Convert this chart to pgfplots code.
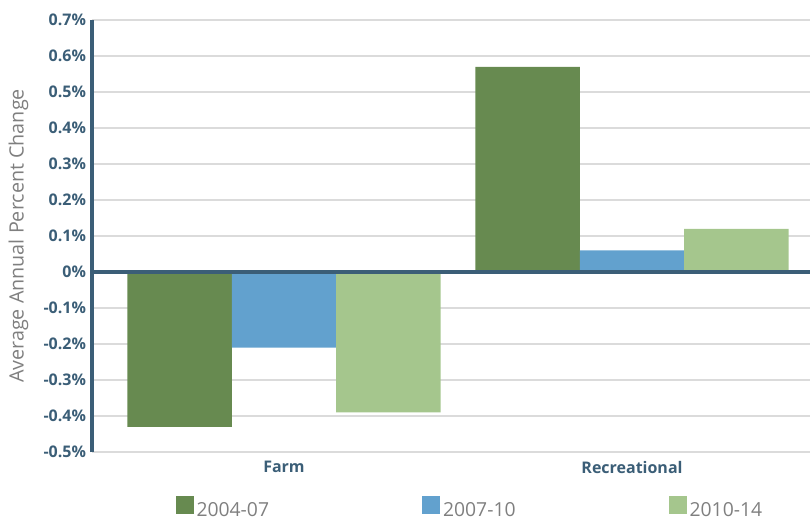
\documentclass[border=0pt]{standalone}
\usepackage{pgfplots}
\pgfplotsset{compat=1.18}
\usepackage{fontspec}
\setmainfont{Open Sans}

\definecolor{darkgreen}{HTML}{678A50}
\definecolor{midblue}{HTML}{62A1CE}
\definecolor{lightgreen}{HTML}{A5C68D}
\definecolor{axiscolor}{HTML}{3B5E77}
\definecolor{labelgray}{HTML}{7F7F7F}

\begin{document}
\begin{tikzpicture}
\begin{axis}[
    scale only axis,
    width=538.5pt, height=324pt,
    clip=false,
    ybar=0pt,
    bar width=0.3,
    xmin=-0.5517, xmax=1.5115,
    ymin=-0.5, ymax=0.7,
    xtick={0,1},
    xticklabels={Farm, Recreational},
    ytick={-0.5,-0.4,-0.3,-0.2,-0.1,0,0.1,0.2,0.3,0.4,0.5,0.6,0.7},
    yticklabels={-0.5\%,-0.4\%,-0.3\%,-0.2\%,-0.1\%,0\%,0.1\%,0.2\%,0.3\%,0.4\%,0.5\%,0.6\%,0.7\%},
    major tick length=0pt,
    axis line style={draw=none},
    ymajorgrids,
    grid style={color=black!14, line width=1.1pt},
    tick label style={font=\fontsize{12}{14}\selectfont\bfseries, text=axiscolor},
    yticklabel style={xshift=-1pt},
    xticklabel style={yshift=-3.5pt},
    ylabel={Average Annual Percent Change},
    ylabel style={at={(axis description cs:-0.1025,0.5)}, anchor=center, rotate=0,
        font=\fontsize{14.8}{16}\selectfont, text=labelgray},
    legend columns=3,
    legend style={at={(axis description cs:0.5,0)}, anchor=north, xshift=14.5pt, yshift=-30.5pt,
        draw=none, fill=none, font=\fontsize{14.5}{16}\selectfont, text=labelgray,
        /tikz/every even column/.append style={column sep=113pt}},
    legend image code/.code={\fill[#1] (0pt,-3pt) rectangle (13.5pt,11pt);},
]
\addplot[fill=darkgreen, draw=none] coordinates {(0,-0.43) (1,0.57)};
\addplot[fill=midblue, draw=none] coordinates {(0,-0.21) (1,0.06)};
\addplot[fill=lightgreen, draw=none] coordinates {(0,-0.39) (1,0.12)};
\legend{2004-07, 2007-10, 2010-14}
\draw[axiscolor, line width=2.4pt] ({rel axis cs:0,0}|-{axis cs:0,0}) -- ({rel axis cs:1,0}|-{axis cs:0,0});
\draw[axiscolor, line width=2.4pt] (rel axis cs:0,0) -- (rel axis cs:0,1);
\end{axis}
\pgfresetboundingbox
\useasboundingbox ([xshift=-69pt,yshift=-51pt]current axis.south west) rectangle ([yshift=15pt]current axis.north east);
\end{tikzpicture}
\end{document}
